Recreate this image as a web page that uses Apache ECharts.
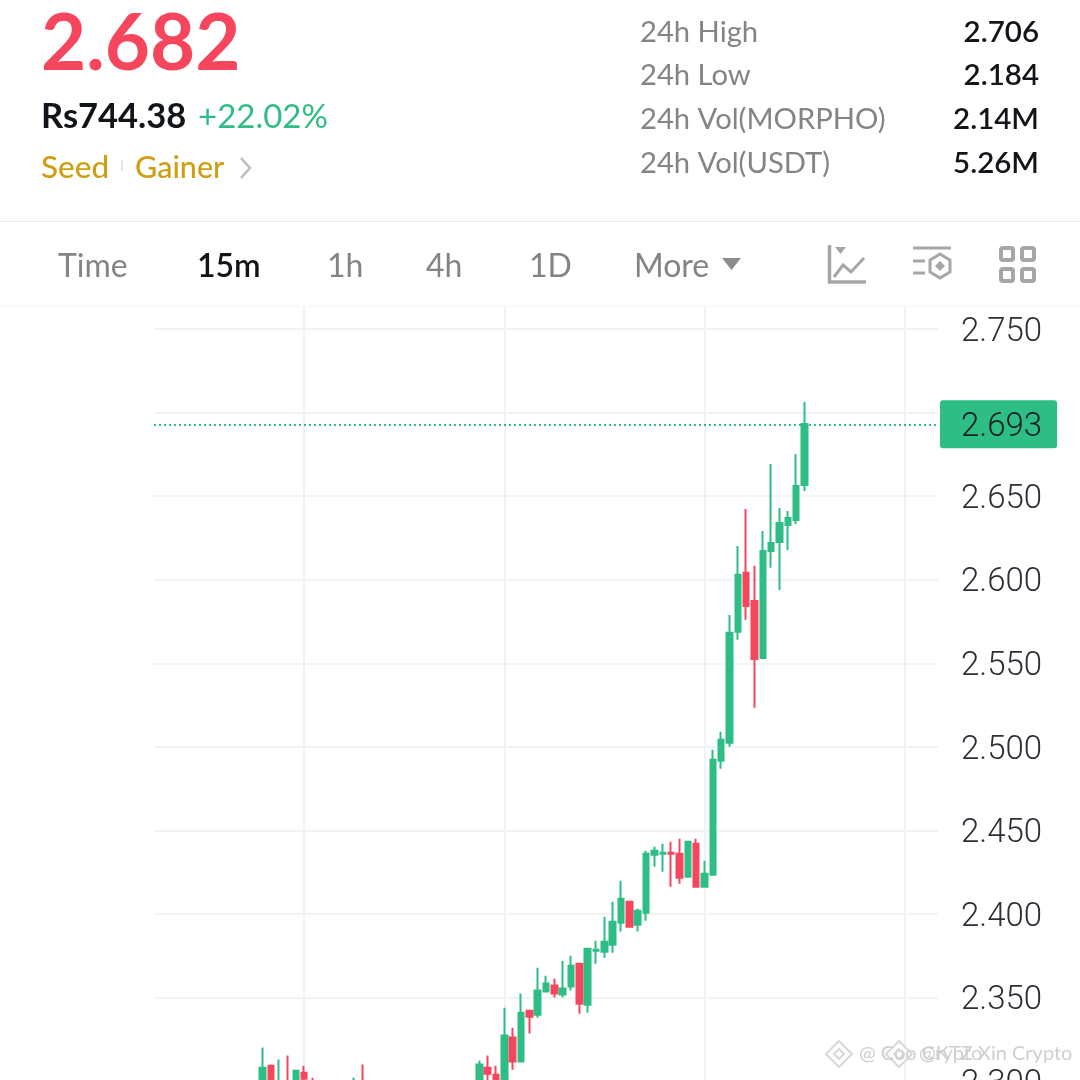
<!DOCTYPE html>
<html>
<head>
<meta charset="utf-8">
<style>html,body{margin:0;padding:0;background:#fff}#c{width:1080px;height:1080px}</style>
<script src="https://cdn.jsdelivr.net/npm/echarts@6/dist/echarts.min.js"></script>
</head>
<body>
<div id="c"></div>
<script>
var slots  = [13,14,15,16,17,18,19,24,25,39,40,41,42,43,44,45,46,47,48,49,50,51,52,53,54,55,56,57,58,59,60,61,62,63,64,65,66,67,68,69,70,71,72,73,74,75,76,77,78];
var opens  = [2.295,2.3092,2.294,2.298,2.296,2.305,2.298,2.295,2.298,2.295,2.308,2.3038,2.293,2.326,2.3116,2.3421,2.3397,2.3535,2.3571,2.3517,2.3565,2.3702,2.3457,2.378,2.3774,2.3816,2.3947,2.4073,2.3935,2.4007,2.4354,2.436,2.4366,2.436,2.4222,2.442,2.4163,2.4234,2.4916,2.5024,2.5688,2.6041,2.5873,2.5532,2.6172,2.6226,2.6328,2.6358,2.6567];
var closes = [2.308,2.295,2.298,2.294,2.3062,2.3014,2.295,2.298,2.295,2.3098,2.3044,2.295,2.3272,2.3116,2.3409,2.3385,2.3541,2.3583,2.3523,2.3553,2.369,2.3463,2.3792,2.3786,2.3834,2.3953,2.4091,2.3923,2.4019,2.436,2.4378,2.4366,2.436,2.4217,2.4432,2.4163,2.424,2.4922,2.5042,2.5682,2.6029,2.5843,2.5526,2.6172,2.622,2.634,2.637,2.6561,2.6932];
var lows   = [2.292,2.292,2.292,2.292,2.294,2.296,2.293,2.293,2.293,2.292,2.295,2.29,2.29,2.3068,2.3116,2.3284,2.3379,2.3529,2.3499,2.3499,2.3541,2.3403,2.3409,2.3702,2.3738,2.3768,2.3894,2.3923,2.3894,2.3959,2.4282,2.4252,2.4163,2.4181,2.4222,2.4163,2.4163,2.4228,2.4868,2.5,2.564,2.576,2.5233,2.5532,2.6071,2.5939,2.6178,2.6334,2.6531];
var highs  = [2.32,2.3098,2.3128,2.3152,2.3068,2.3092,2.302,2.302,2.3098,2.3122,2.3152,2.3092,2.3439,2.3319,2.3523,2.3427,2.3678,2.363,2.3612,2.372,2.375,2.3702,2.3792,2.384,2.3983,2.4073,2.4199,2.4079,2.4031,2.4378,2.4402,2.442,2.4432,2.445,2.4432,2.445,2.4318,2.4982,2.509,2.5789,2.6202,2.6423,2.6083,2.6292,2.6693,2.6429,2.6411,2.6752,2.7063];
var slotCount = 95;
var gridSlots = [18,42,66,90];
var lastPrice = 2.693;

var priceText = '2.682';
var fiatText = 'Rs744.38';
var changeText = '+22.02%';
var tags = ['Seed','Gainer'];
var statLabels = ['24h High','24h Low','24h Vol(MORPHO)','24h Vol(USDT)'];
var statValues = ['2.706','2.184','2.14M','5.26M'];
var tabLabels = ['Time','15m','1h','4h','1D','More'];
var watermarks = ['@ Coo Crypto','@KTZ Xin Crypto'];

var GREEN='#2EBD85', RED='#F6465D', GREY='#848484', ICON='#A6A6A6', GOLD='#CF9E12', INK='#111418';
var UI='Lato';

function txt(s,x,y,size,fill,weight,align,extra){
  var st={text:s,x:x,y:y,fill:fill,fontFamily:UI,fontSize:size,fontWeight:weight||400,align:align||'left',verticalAlign:'middle'};
  if(extra){for(var k in extra)st[k]=extra[k];}
  return {type:'text',z:100,silent:true,style:st};
}
function line(pts,color,w,z){return {type:'polyline',z:z||100,silent:true,shape:{points:pts},style:{stroke:color,lineWidth:w,fill:null}};}
function poly(pts,fill,stroke,w,z){return {type:'polygon',z:z||100,silent:true,shape:{points:pts},style:{fill:fill||'none',stroke:stroke||null,lineWidth:w||0}};}
function rrect(x,y,w,h){return {type:'rect',z:100,silent:true,shape:{x:x,y:y,width:w,height:h,r:2},style:{fill:'none',stroke:ICON,lineWidth:4}};}

var g=[];
g.push({type:'rect',z:90,silent:true,shape:{x:0,y:0,width:1080,height:305},style:{fill:'#fff'}});
g.push({type:'rect',z:90,silent:true,shape:{x:0,y:305,width:1080,height:4},style:{fill:new echarts.graphic.LinearGradient(0,0,0,1,[{offset:0,color:'#f7f7f7'},{offset:1,color:'rgba(255,255,255,0)'}])}});
g.push({type:'rect',z:100,silent:true,shape:{x:0,y:221,width:1080,height:1},style:{fill:'#ECECEC'}});
g.push(txt(priceText,41,45,78,RED,700));
g.push(txt(fiatText,41,117,34.5,INK,700));
g.push(txt(changeText,198,117,33,GREEN,400));
g.push(txt(tags[0],41,168,31.5,GOLD,500));
g.push({type:'rect',z:100,silent:true,shape:{x:121,y:160,width:2,height:11},style:{fill:'#E6E6E6'}});
g.push(txt(tags[1],135,168,30.5,GOLD,500));
g.push(line([[241,158],[250,168],[241,178]],'#BDBDBD',2.5));
var statY=[33,76,120,164];
statLabels.forEach(function(s,i){
  g.push(txt(s,640,statY[i],29.2,GREY,400));
  g.push(txt(statValues[i],1039,statY[i]-1,29.5,INK,600,'right'));
});
var tabX=[58,197,327,426,529,634];
tabLabels.forEach(function(s,i){
  g.push(txt(s,tabX[i],267,32,i===1?INK:GREY,i===1?600:400));
});
g.push(poly([[722,258],[741,258],[731.5,270]],'#8C8C8C'));
// chart-style icon
g.push(line([[829.5,245],[829.5,282],[866,282]],ICON,3.5));
g.push(poly([[835,247],[846,247],[840.5,254]],ICON));
g.push(line([[834,277],[843,265],[851,272],[864,258]],ICON,3));
// indicator icon
g.push(line([[913,248],[951,248]],ICON,3));
g.push(line([[913,261],[925,261]],ICON,3));
g.push(line([[913,273],[925,273]],ICON,3));
g.push(poly([[940,254],[950,260],[950,272],[940,278],[930,272],[930,260]],null,ICON,3));
g.push(poly([[940,261],[945,266],[940,271],[935,266]],ICON));
// layout icon
g.push(rrect(1001,248,12,12));g.push(rrect(1022,248,12,12));g.push(rrect(1001,269,12,12));g.push(rrect(1022,269,12,12));
// watermark
function diamond(cx,cy){
  g.push(poly([[cx,cy-13],[cx+13,cy],[cx,cy+13],[cx-13,cy]],'rgba(255,255,255,.5)','#D8D8D8',2,95));
  g.push(poly([[cx,cy-5],[cx+5,cy],[cx,cy+5],[cx-5,cy]],'#fff','#D8D8D8',2,95));
}
diamond(839,1054);diamond(899,1054);
g.push({type:'text',z:95,silent:true,style:{text:watermarks[0],x:859,y:1054,fill:'#CFCFCF',fontFamily:UI,fontSize:20,verticalAlign:'middle',shadowColor:'rgba(0,0,0,.18)',shadowBlur:3}});
g.push({type:'text',z:95,silent:true,style:{text:watermarks[1],x:919,y:1054,fill:'#CFCFCF',fontFamily:UI,fontSize:20,verticalAlign:'middle',shadowColor:'rgba(0,0,0,.18)',shadowBlur:3}});

var categories=[];for(var i=0;i<slotCount;i++)categories.push(String(i));
var data=slots.map(function(s,i){return [s,opens[i],closes[i],lows[i],highs[i]];});

var chart=echarts.init(document.getElementById('c'),null,{width:1080,height:1080});
chart.setOption({
  animation:false,
  backgroundColor:'#fff',
  grid:{left:154,top:304,width:784,height:777,containLabel:false,outerBoundsMode:'none'},
  xAxis:{type:'category',data:categories,boundaryGap:false,
    axisLine:{show:false},axisTick:{show:false},axisLabel:{show:false},
    splitLine:{show:true,interval:function(i){return gridSlots.indexOf(i)>=0;},lineStyle:{color:'#F1F2F3',width:2}}},
  yAxis:{type:'value',position:'right',min:2.3,max:2.765,interval:0.05,scale:true,
    axisLine:{show:false},axisTick:{show:false},
    splitLine:{show:true,lineStyle:{color:'#F2F3F3',width:2}},
    axisLabel:{margin:23,showMaxLabel:false,
      rich:{a:{color:'#2B2F36',fontFamily:'Roboto',fontWeight:300,fontSize:33,lineHeight:36,padding:[7,0,0,0]}},
      formatter:function(v){return Math.abs(v-2.7)<1e-6?'':'{a|'+v.toFixed(3)+'}';}}},
  series:[{type:'candlestick',data:data,encode:{x:0,y:[1,2,3,4]},barWidth:6,clip:true,
    itemStyle:{color:GREEN,color0:RED,borderColor:GREEN,borderColor0:RED,borderWidth:2},
    markLine:{silent:true,symbol:'none',animation:false,precision:3,
      lineStyle:{color:GREEN,type:[2,3],width:2},
      label:{show:true,position:'end',distance:2,formatter:function(p){return '{a|'+Number(p.value).toFixed(3)+'}';},
        backgroundColor:GREEN,borderRadius:[3,3,3,3],padding:[6,15,6,21],
        rich:{a:{color:'#1B1F24',fontFamily:'Roboto',fontWeight:300,fontSize:33,lineHeight:36,padding:[7,0,0,0]}}},
      data:[{yAxis:lastPrice}]}
  }],
  graphic:{elements:g}
});
</script>
</body>
</html>
